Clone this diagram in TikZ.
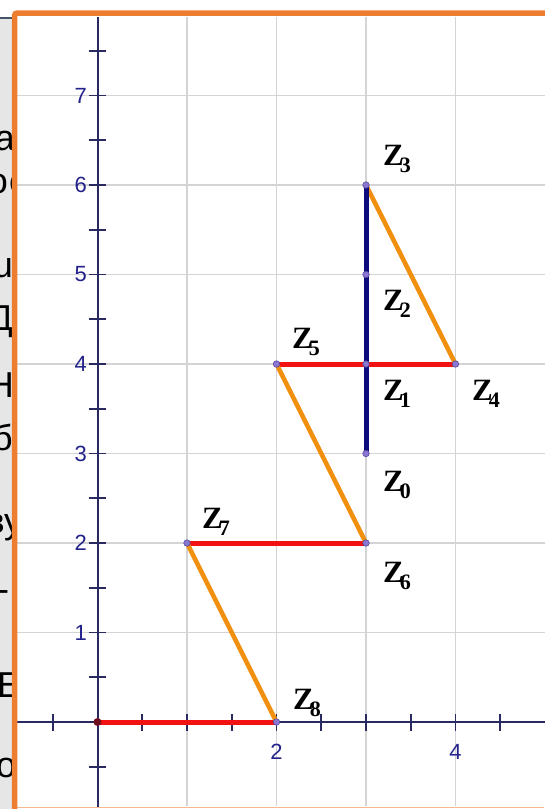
\documentclass[tikz,border=0pt]{standalone}
\usepackage{fontspec}
\setmainfont{Liberation Serif}
\newfontfamily\lsans{Liberation Sans}
\definecolor{borderc}{HTML}{ED7D31}
\definecolor{borderl}{HTML}{F6B88E}
\definecolor{grayzero}{HTML}{E7E6E6}
\definecolor{slatec}{HTML}{44546A}
\definecolor{gridc}{HTML}{D4D4D4}
\definecolor{axisc}{HTML}{2A2A62}
\definecolor{labc}{HTML}{22228A}
\definecolor{redc}{HTML}{F21212}
\definecolor{orc}{HTML}{F0900E}
\definecolor{navyc}{HTML}{0B0B7E}
\definecolor{dotc}{HTML}{8A78D0}
\definecolor{dotd}{HTML}{5848A0}
\definecolor{origc}{HTML}{6E0E1E}
\tikzset{
  frag/.style={inner sep=0pt, font=\lsans\fontsize{36}{36}\selectfont, text=black},
  gridline/.style={draw=gridc, line width=1.2pt},
  axisline/.style={draw=axisc, line width=2pt},
  tickline/.style={draw=axisc, line width=1.8pt},
  ylab/.style={inner sep=0pt, anchor=east, text=labc, font=\lsans\fontsize{22}{22}\selectfont},
  xlab/.style={inner sep=0pt, anchor=center, text=labc, font=\lsans\fontsize{22}{22}\selectfont},
  redseg/.style={draw=redc, line width=5pt},
  orseg/.style={draw=orc, line width=4.5pt},
  navyseg/.style={draw=navyc, line width=5pt},
  pt/.style={circle, fill=dotc, draw=dotd, line width=0.6pt, inner sep=0pt, minimum size=6.5pt},
  origpt/.style={circle, fill=origc, inner sep=0pt, minimum size=8pt},
  zlab/.style={inner sep=0pt, anchor=base west, text=black}
}
\newcommand{\zl}[1]{{\fontsize{31}{31}\selectfont\bfseries Z\kern-4pt\raisebox{-7pt}{\fontsize{22}{22}\selectfont #1}}}
\begin{document}
\begin{tikzpicture}[x=1pt,y=-1pt]
\useasboundingbox (0,0) rectangle (544,809);
\fill[white] (0,0) rectangle (544,809);
% background slide strip
\fill[grayzero] (0,17) rectangle (14,809);
\draw[slatec, line width=2pt] (0,18) -- (14,18);
\begin{scope}
\clip (0,19.5) rectangle (14,809);
\node[frag, anchor=base east] (f1) at (15,150) {а};
\node[frag, anchor=base east] (f2a) at (8,193) {о};
\node[frag, anchor=base west] (f2b) at (9,193) {с};
\node[frag, anchor=base east] (f3) at (13,277) {u};
\node[frag, anchor=base east] (f4) at (13,330) {Д};
\node[frag, anchor=base east] (f5) at (14,397) {Н};
\node[frag, anchor=base east] (f6) at (13,450) {б};
\node[frag, anchor=base east] (f7a) at (5,533) {в};
\node[frag, anchor=base west] (f7b) at (4,533) {у};
\node[frag, anchor=base west] (f8) at (-3,601) {-};
\node[frag, anchor=base west] (f9) at (-3,697) {Е};
\node[frag, anchor=base west] (f10) at (-4,777) {о};
\end{scope}
% white panel
\fill[white] (15,13) rectangle (550,807);
% graph
\begin{scope}[shift={(97.5,722)}, x=89.5pt, y=89.5pt]
  \foreach \k in {1,...,4} \draw[gridline] (\k,-0.94) -- (\k,7.88);
  \foreach \k in {1,...,7} \draw[gridline] (-0.9,\k) -- (5,\k);
  \draw[axisline] (-0.9,0) -- (5,0);
  \draw[axisline] (0,-0.95) -- (0,7.88);
  \foreach \k in {-1,1,2,...,15} \draw[tickline] (-0.1,\k/2) -- (0.1,\k/2);
  \foreach \k in {-1,1,2,...,9} \draw[tickline] (\k/2,-0.095) -- (\k/2,0.095);
  \foreach \k in {1,...,7} \node[ylab] (yl\k) at (-0.118,\k) {\k};
  \node[xlab] (xl2) at (2,-0.33) {2};
  \node[xlab] (xl4) at (4,-0.33) {4};
  \coordinate (O) at (0,0);
  \coordinate (z0) at (3,3);
  \coordinate (z1) at (3,4);
  \coordinate (z2) at (3,5);
  \coordinate (z3) at (3,6);
  \coordinate (z4) at (4,4);
  \coordinate (z5) at (2,4);
  \coordinate (z6) at (3,2);
  \coordinate (z7) at (1,2);
  \coordinate (z8) at (2,0);
  \draw[redseg] (O) -- (z8);
  \draw[redseg] (z7) -- (z6);
  \draw[redseg] (z5) -- (z4);
  \draw[orseg] (z8) -- (z7);
  \draw[orseg] (z6) -- (z5);
  \draw[orseg] (z4) -- (z3);
  \draw[navyseg] (z0) -- (z3);
  \node[origpt] (pO) at (O) {};
  \foreach \p in {z0,z1,z2,z3,z4,z5,z6,z7,z8} \node[pt] (p\p) at (\p) {};
\end{scope}
% labels
\node[zlab] (l3) at (383,165) {\zl{3}};
\node[zlab] (l2) at (383,310) {\zl{2}};
\node[zlab] (l1) at (383,400) {\zl{1}};
\node[zlab] (l4) at (472,400) {\zl{4}};
\node[zlab] (l0) at (383,491) {\zl{0}};
\node[zlab] (l5) at (292,348) {\zl{5}};
\node[zlab] (l7) at (202,528) {\zl{7}};
\node[zlab] (l6) at (383,582) {\zl{6}};
\node[zlab] (l8) at (293,709) {\zl{8}};
% orange frame
\draw[borderl, line width=1.5pt] (17,807.3) -- (544,807.3);
\draw[borderc, line width=5.5pt, rounded corners=2pt] (14.7,809) -- (14.7,13.2) -- (548,13.2);
\end{tikzpicture}
\end{document}
